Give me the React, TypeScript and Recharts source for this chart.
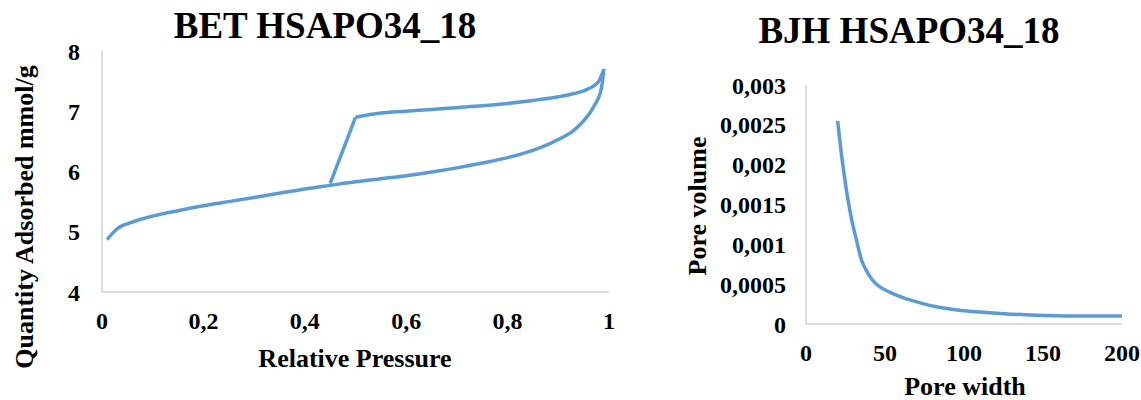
import { LineChart, Line, XAxis, YAxis } from "recharts";

// BET isotherm, adsorption branch (relative pressure -> mmol/g)
const adsP = [0.01, 0.03, 0.06, 0.1, 0.15, 0.2, 0.25, 0.3, 0.35, 0.4, 0.45, 0.5, 0.55, 0.6, 0.65, 0.7, 0.75, 0.8, 0.85, 0.9, 0.93, 0.95, 0.97, 0.985, 0.99];
const adsQ = [4.87, 5.05, 5.16, 5.26, 5.35, 5.43, 5.5, 5.57, 5.64, 5.71, 5.77, 5.83, 5.88, 5.93, 5.99, 6.06, 6.14, 6.23, 6.35, 6.53, 6.68, 6.84, 7.08, 7.38, 7.7];

// desorption branch
const desP = [0.45, 0.5, 0.55, 0.6, 0.65, 0.7, 0.75, 0.8, 0.85, 0.9, 0.93, 0.95, 0.97, 0.98, 0.99];
const desQ = [5.8, 6.9, 6.97, 7.0, 7.03, 7.06, 7.09, 7.13, 7.18, 7.24, 7.29, 7.34, 7.42, 7.5, 7.7];

// BJH pore size distribution
const poreWidth = [20, 22, 24, 26.5, 29, 32, 35, 38, 41, 44, 48, 53, 60, 68, 77, 87, 98, 110, 125, 145, 170, 200];
const poreVolume = [0.00255, 0.0022, 0.0019, 0.00157, 0.0013, 0.00105, 0.00081, 0.00068, 0.00058, 0.00051, 0.00045, 0.0004, 0.00034, 0.00029, 0.00024, 0.0002, 0.00017, 0.00015, 0.00013, 0.00011, 0.0001, 0.0001];

const betXTicks = [0, 0.2, 0.4, 0.6, 0.8, 1];
const betYTicks = [4, 5, 6, 7, 8];
const bjhXTicks = [0, 50, 100, 150, 200];
const bjhYTicks = [0, 0.0005, 0.001, 0.0015, 0.002, 0.0025, 0.003];

const ads = adsP.map((p, i) => ({ p, q: adsQ[i] }));
const des = desP.map((p, i) => ({ p, q: desQ[i] }));
// the capillary step is straight, the plateau is smoothed
const desStep = des.slice(0, 2);
const desPlateau = des.slice(1);
const bjh = poreWidth.map((w, i) => ({ w, v: poreVolume[i] }));

const FONT = '"Liberation Serif", "Times New Roman", serif';
const BLUE = "#5b9bd5";
const AXIS = "#d0d0d0";
const tickStyle = { fill: "#000", fontSize: 24, fontWeight: 700, fontFamily: FONT };

const comma = (v: number) => String(v).replace(".", ",");

export default function App() {
  return (
    <div
      style={{
        position: "absolute",
        left: 0,
        top: 0,
        width: 1141,
        height: 400,
        background: "#fff",
        overflow: "hidden",
      }}
    >
      <div style={{ position: "absolute", left: 0, top: 0 }}>
        <LineChart
          width={620}
          height={400}
          margin={{ top: 51, right: 11, left: 0, bottom: 48 }}
        >
          <XAxis
            type="number"
            dataKey="p"
            domain={[0, 1]}
            ticks={betXTicks}
            tickFormatter={comma}
            height={60}
            tickLine={false}
            tickSize={0}
            tickMargin={20}
            tick={tickStyle}
            axisLine={{ stroke: AXIS, strokeWidth: 1.5 }}
          />
          <YAxis
            type="number"
            domain={[4, 8]}
            ticks={betYTicks}
            width={102}
            tickLine={false}
            tickSize={0}
            tickMargin={22}
            tick={tickStyle}
            axisLine={{ stroke: AXIS, strokeWidth: 1.5 }}
          />
          <Line
            data={ads}
            dataKey="q"
            type="monotone"
            stroke={BLUE}
            strokeWidth={3.5}
            dot={false}
            isAnimationActive={false}
          />
          <Line
            data={desStep}
            dataKey="q"
            type="linear"
            stroke={BLUE}
            strokeWidth={3.5}
            dot={false}
            isAnimationActive={false}
          />
          <Line
            data={desPlateau}
            dataKey="q"
            type="monotone"
            stroke={BLUE}
            strokeWidth={3.5}
            dot={false}
            isAnimationActive={false}
          />
        </LineChart>
      </div>

      <div style={{ position: "absolute", left: 660, top: 0 }}>
        <LineChart
          width={481}
          height={400}
          data={bjh}
          margin={{ top: 85, right: 19, left: 0, bottom: 16 }}
        >
          <XAxis
            type="number"
            dataKey="w"
            domain={[0, 200]}
            ticks={bjhXTicks}
            height={60}
            tickLine={false}
            tickSize={0}
            tickMargin={20}
            tick={tickStyle}
            axisLine={{ stroke: AXIS, strokeWidth: 1.5 }}
          />
          <YAxis
            type="number"
            domain={[0, 0.003]}
            ticks={bjhYTicks}
            tickFormatter={comma}
            width={146}
            tickLine={false}
            tickSize={0}
            tickMargin={20}
            tick={tickStyle}
            axisLine={{ stroke: AXIS, strokeWidth: 1.5 }}
          />
          <Line
            dataKey="v"
            type="monotone"
            stroke={BLUE}
            strokeWidth={3.5}
            dot={false}
            isAnimationActive={false}
          />
        </LineChart>
      </div>

      <svg
        width={1141}
        height={400}
        style={{ position: "absolute", left: 0, top: 0, pointerEvents: "none" }}
        fontFamily={FONT}
        fontWeight={700}
        fill="#000"
      >
        <text x={325} y={38} fontSize={37} textAnchor="middle">
          BET HSAPO34_18
        </text>
        <text x={909} y={43} fontSize={37} textAnchor="middle">
          BJH HSAPO34_18
        </text>
        <text x={355} y={367} fontSize={26} textAnchor="middle">
          Relative Pressure
        </text>
        <text
          x={0}
          y={0}
          fontSize={26}
          textAnchor="middle"
          transform="translate(33 217) rotate(-90)"
        >
          Quantity Adsorbed mmol/g
        </text>
        <text
          x={0}
          y={0}
          fontSize={26}
          textAnchor="middle"
          transform="translate(706 206) rotate(-90)"
        >
          Pore volume
        </text>
        <text x={965} y={395} fontSize={26} textAnchor="middle">
          Pore width
        </text>
      </svg>
    </div>
  );
}
